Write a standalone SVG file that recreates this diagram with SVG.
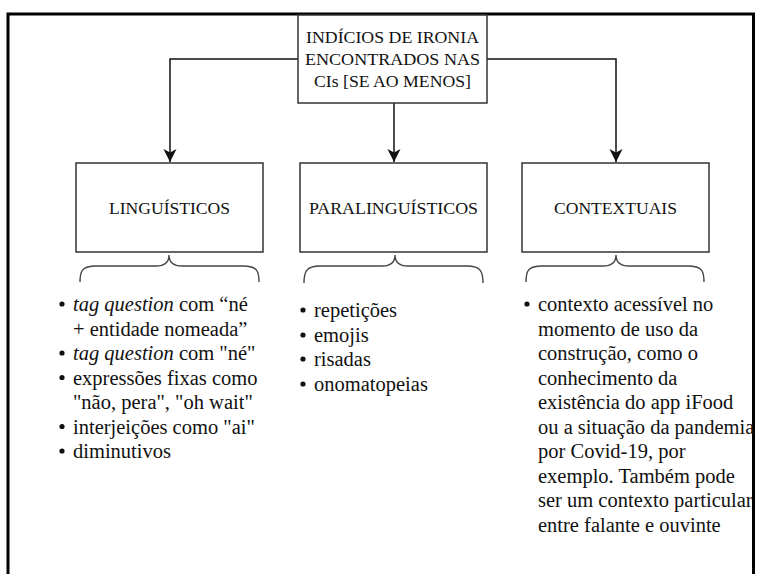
<svg xmlns="http://www.w3.org/2000/svg" width="757" height="574" viewBox="0 0 757 574">
<style>
.box{fill:#fff;stroke:#333;stroke-width:1.5}
.t{font-family:"Liberation Serif","Times New Roman",serif;fill:#111}
.hd{font-size:17.5px;text-anchor:middle}
.lbl{font-size:17px;text-anchor:middle}
.li{font-size:20.5px}
.brace{fill:none;stroke:#444;stroke-width:1.4}
.edge{fill:none;stroke:#111;stroke-width:1.5}
.dot{fill:#111}
</style>
<defs>
<marker id="arr" markerUnits="userSpaceOnUse" markerWidth="16" markerHeight="16" viewBox="-14 -8 16 16" refX="0" refY="0" orient="auto">
<path d="M0,0 L-13,-6.5 L-9.5,0 L-13,6.5 Z" fill="#111"/>
</marker>
</defs>
<rect width="757" height="574" fill="#fff"/>
<path d="M8,574 V14 H753.5 V574" fill="none" stroke="#000" stroke-width="3"/>
<g id="connectors">
<path class="edge" d="M298,59 H170 V162" marker-end="url(#arr)"/>
<path class="edge" d="M394,103 V162" marker-end="url(#arr)"/>
<path class="edge" d="M487,59 H616 V162" marker-end="url(#arr)"/>
</g>
<g id="root">
<rect class="box" x="298" y="15" width="189" height="88"/>
<text class="t hd" x="392.5" y="43" textLength="173" lengthAdjust="spacingAndGlyphs">INDÍCIOS DE IRONIA</text>
<text class="t hd" x="392.5" y="65" textLength="175" lengthAdjust="spacingAndGlyphs">ENCONTRADOS NAS</text>
<text class="t hd" x="392.5" y="87" textLength="157" lengthAdjust="spacingAndGlyphs">CIs [SE AO MENOS]</text>
</g>
<g id="linguisticos">
<rect class="box" x="76" y="163" width="187" height="89"/>
<text class="t lbl" x="169.5" y="214" textLength="121" lengthAdjust="spacingAndGlyphs">LINGUÍSTICOS</text>
</g>
<g id="paralinguisticos">
<rect class="box" x="300" y="163" width="187" height="89"/>
<text class="t lbl" x="393.5" y="214" textLength="169" lengthAdjust="spacingAndGlyphs">PARALINGUÍSTICOS</text>
</g>
<g id="contextuais">
<rect class="box" x="522" y="163" width="187" height="89"/>
<text class="t lbl" x="615.5" y="214" textLength="123" lengthAdjust="spacingAndGlyphs">CONTEXTUAIS</text>
</g>
<g id="brace-linguisticos">
<path class="brace" d="M80,282 C80,271 82,266 96,266 L156,266 C164,266 169,263 169,255 C169,263 174,266 182,266 L243,266 C257,266 259,271 259,282"/>
</g>
<g id="brace-paralinguisticos">
<path class="brace" d="M304,283 C304,272 306,266 320,266 L382,266 C390,266 395,263 395,255 C395,263 400,266 408,266 L467,266 C481,266 483,272 483,283"/>
</g>
<g id="brace-contextuais">
<path class="brace" d="M526,282 C526,271 528,266 542,266 L603,266 C611,266 616,263 616,255 C616,263 621,266 629,266 L688,266 C702,266 704,271 704,282"/>
</g>
<g id="list-linguisticos">
<circle class="dot" cx="62" cy="304" r="2.6"/>
<text class="t li" x="73" y="311"><tspan font-style="italic">tag question</tspan> com “né</text>
<text class="t li" x="73" y="335.5">+ entidade nomeada”</text>
<circle class="dot" cx="62" cy="353" r="2.6"/>
<text class="t li" x="73" y="360"><tspan font-style="italic">tag question</tspan> com "né"</text>
<circle class="dot" cx="62" cy="377.5" r="2.6"/>
<text class="t li" x="73" y="384.5">expressões fixas como</text>
<text class="t li" x="73" y="409">"não, pera", "oh wait"</text>
<circle class="dot" cx="62" cy="426.5" r="2.6"/>
<text class="t li" x="73" y="433.5">interjeições como "ai"</text>
<circle class="dot" cx="62" cy="451" r="2.6"/>
<text class="t li" x="73" y="458">diminutivos</text>
</g>
<g id="list-paralinguisticos">
<circle class="dot" cx="303" cy="310" r="2.6"/>
<text class="t li" x="314" y="317">repetições</text>
<circle class="dot" cx="303" cy="335" r="2.6"/>
<text class="t li" x="314" y="342">emojis</text>
<circle class="dot" cx="303" cy="359" r="2.6"/>
<text class="t li" x="314" y="366">risadas</text>
<circle class="dot" cx="303" cy="384" r="2.6"/>
<text class="t li" x="314" y="391">onomatopeias</text>
</g>
<g id="list-contextuais">
<circle class="dot" cx="527" cy="304" r="2.6"/>
<text class="t li" x="538" y="311">contexto acessível no</text>
<text class="t li" x="538" y="335.5">momento de uso da</text>
<text class="t li" x="538" y="360">construção, como o</text>
<text class="t li" x="538" y="384.5">conhecimento da</text>
<text class="t li" x="538" y="409">existência do app iFood</text>
<text class="t li" x="538" y="433.5">ou a situação da pandemia</text>
<text class="t li" x="538" y="458">por Covid-19, por</text>
<text class="t li" x="538" y="482.5">exemplo. Também pode</text>
<text class="t li" x="538" y="507">ser um contexto particular</text>
<text class="t li" x="538" y="531.5">entre falante e ouvinte</text>
</g>
</svg>
